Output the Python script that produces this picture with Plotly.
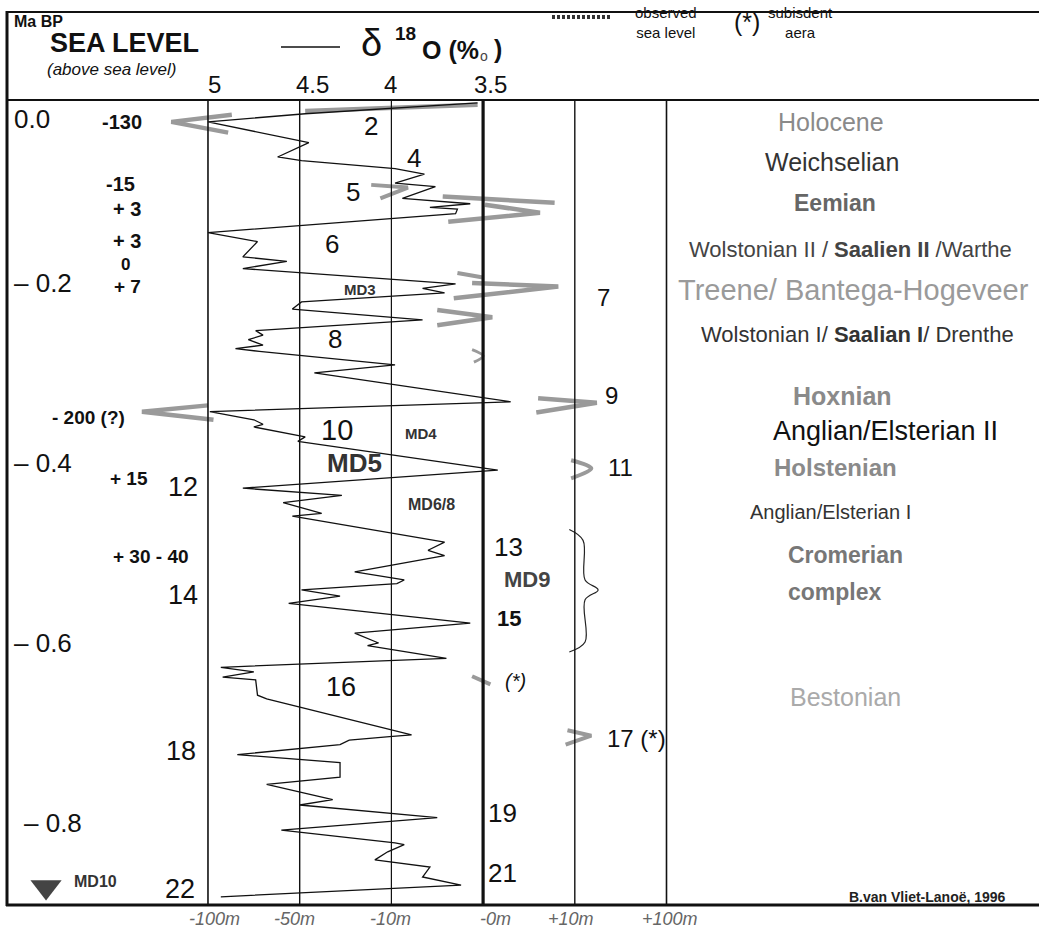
import plotly.graph_objects as go

W, H = 1039, 930
FONT = "Liberation Sans, Arial, Helvetica, sans-serif"

# ---------------- data ----------------
# delta-18O curve (age in Ma BP, d18O in per mil)
age_ma = [0.000, 0.012, 0.021, 0.044, 0.060, 0.064, 0.073, 0.079, 0.089, 0.093,
          0.106, 0.112, 0.116, 0.118, 0.123, 0.144, 0.154, 0.171, 0.176, 0.184,
          0.201, 0.206, 0.211, 0.221, 0.229, 0.241, 0.253, 0.258, 0.263, 0.269,
          0.273, 0.276, 0.291, 0.300, 0.332, 0.343, 0.352, 0.357, 0.360, 0.371,
          0.376, 0.408, 0.428, 0.436, 0.444, 0.456, 0.459, 0.488, 0.497, 0.503,
          0.521, 0.530, 0.534, 0.541, 0.548, 0.556, 0.578, 0.589, 0.600, 0.603,
          0.617, 0.627, 0.632, 0.638, 0.641, 0.658, 0.662, 0.702, 0.704, 0.708,
          0.713, 0.724, 0.733, 0.749, 0.757, 0.774, 0.780, 0.794, 0.808, 0.822,
          0.824, 0.832, 0.841, 0.843, 0.849, 0.860, 0.869, 0.882]
d18o = [3.53, 4.47, 5.00, 4.45, 4.62, 4.49, 3.98, 3.82, 3.98, 3.76,
        3.94, 3.57, 3.79, 3.64, 3.65, 5.00, 4.73, 4.81, 4.57, 4.81,
        3.65, 3.83, 3.71, 4.49, 4.54, 3.83, 4.74, 4.70, 4.78, 4.70,
        4.85, 4.72, 3.98, 4.42, 3.35, 4.99, 4.75, 4.70, 4.75, 4.47,
        4.51, 3.42, 4.81, 4.27, 4.59, 4.38, 4.54, 3.71, 3.80, 3.71,
        4.20, 3.93, 3.97, 4.49, 4.28, 4.56, 3.57, 4.20, 4.07, 4.13,
        3.70, 4.93, 4.75, 4.92, 4.74, 4.73, 4.68, 3.89, 4.01, 4.23,
        4.28, 4.84, 4.28, 4.28, 4.68, 4.32, 4.50, 3.75, 4.60, 3.98,
        3.93, 4.02, 4.09, 4.02, 3.79, 3.83, 3.62, 4.93]

# observed sea-level marks (age, position on the d18O scale)
sl_holocene_age = [0.009, 0.002];        sl_holocene_x = [4.47, 3.53]
sl_m130_age = [0.013, 0.021, 0.033];     sl_m130_x = [4.87, 5.20, 4.89]
sl_st5_age = [0.091, 0.094, 0.106];      sl_st5_x = [4.11, 3.91, 4.06]
sl_eem_a_age = [0.104, 0.111];           sl_eem_a_x = [3.72, 3.11]
sl_eem_b_age = [0.113, 0.122, 0.132];    sl_eem_b_x = [3.49, 3.19, 3.69]
sl_st7a_age = [0.189, 0.194];            sl_st7a_x = [3.64, 3.50]
sl_st7b_age = [0.200, 0.204, 0.217];     sl_st7b_x = [3.56, 3.09, 3.66]
sl_st7c_age = [0.230, 0.238, 0.247];     sl_st7c_x = [3.75, 3.45, 3.75]
sl_st8_age = [0.274, 0.281, 0.288];      sl_st8_x = [3.56, 3.50, 3.55]
sl_m200_age = [0.336, 0.343, 0.352];     sl_m200_x = [5.00, 5.36, 4.97]
sl_st9_age = [0.328, 0.333, 0.344];      sl_st9_x = [3.20, 2.88, 3.21]
sl_st11_age = [0.397, 0.406, 0.417];     sl_st11_x = [3.02, 2.91, 3.02]
sl_st15_age = [0.637, 0.646];            sl_st15_x = [3.56, 3.46]
sl_st17_age = [0.697, 0.703, 0.713];     sl_st17_x = [3.04, 2.91, 3.05]

grid_d18o = [5.0, 4.5, 4.0, 3.5, 3.0, 2.5]
top_tick_labels = ["5", "4.5", "4", "3.5"]
bottom_tick_labels = ["-100m", "-50m", "-10m", "-0m", "+10m", "+100m"]
age_ticks = [0.0, 0.2, 0.4, 0.6, 0.8]
age_tick_labels = ["0.0", "– 0.2", "– 0.4", "– 0.6", "– 0.8"]

# brace (Cromerian complex)
brace_age = [0.474, 0.486, 0.530, 0.541, 0.552, 0.599, 0.610]
brace_x = [3.03, 2.955, 2.944, 2.873, 2.944, 2.944, 3.03]

X_RANGE = [6.134, 0.469]
Y_RANGE = [0.9189, -0.1144]
AGE_TOP, AGE_BOTTOM = -0.0033, 0.891

fig = go.Figure()

GRAY = "#9a9a9a"
marks = [
    (sl_holocene_age, sl_holocene_x, 4.5, "linear"),
    (sl_m130_age, sl_m130_x, 4.5, "linear"),
    (sl_st5_age, sl_st5_x, 4, "linear"),
    (sl_eem_a_age, sl_eem_a_x, 4.5, "linear"),
    (sl_eem_b_age, sl_eem_b_x, 4.5, "linear"),
    (sl_st7a_age, sl_st7a_x, 4, "linear"),
    (sl_st7b_age, sl_st7b_x, 4.5, "linear"),
    (sl_st7c_age, sl_st7c_x, 4.5, "linear"),
    (sl_st8_age, sl_st8_x, 3, "spline"),
    (sl_m200_age, sl_m200_x, 4.5, "linear"),
    (sl_st9_age, sl_st9_x, 4.5, "linear"),
    (sl_st11_age, sl_st11_x, 4, "spline"),
    (sl_st15_age, sl_st15_x, 4, "linear"),
    (sl_st17_age, sl_st17_x, 4, "linear"),
]
for a, x, w, shp in marks:
    fig.add_trace(go.Scatter(x=x, y=a, mode="lines",
                             line=dict(color=GRAY, width=w, shape=shp),
                             hoverinfo="skip", showlegend=False))

fig.add_trace(go.Scatter(x=d18o, y=age_ma, mode="lines",
                         line=dict(color="#111", width=1.3),
                         showlegend=False))

fig.add_trace(go.Scatter(x=brace_x, y=brace_age, mode="lines",
                         line=dict(color="#222", width=1.2, shape="spline"),
                         hoverinfo="skip", showlegend=False))

# MD10 triangle
fig.add_trace(go.Scatter(x=[5.883], y=[0.871], mode="markers",
                         marker=dict(symbol="triangle-down", size=27, color="#444"),
                         hoverinfo="skip", showlegend=False))

shapes = []
widths = [1.6, 1.4, 1.2, 3.2, 1.4, 1.6]
for g, w in zip(grid_d18o, widths):
    shapes.append(dict(type="line", xref="x", yref="y", x0=g, x1=g,
                       y0=AGE_TOP, y1=AGE_BOTTOM, line=dict(color="#111", width=w)))

def px(x):
    return x / W

def py(y):
    return 1 - y / H

# frame
shapes += [
    dict(type="line", xref="paper", yref="paper", x0=px(7), x1=1, y0=py(12), y1=py(12),
         line=dict(color="#111", width=2)),
    dict(type="line", xref="paper", yref="paper", x0=px(7), x1=1, y0=py(100), y1=py(100),
         line=dict(color="#111", width=2)),
    dict(type="line", xref="paper", yref="paper", x0=px(6), x1=1, y0=py(905), y1=py(905),
         line=dict(color="#111", width=3)),
    dict(type="line", xref="paper", yref="paper", x0=px(7), x1=px(7), y0=py(11), y1=py(906),
         line=dict(color="#111", width=3)),
    # legend line for d18O
    dict(type="line", xref="paper", yref="paper", x0=px(281), x1=px(340), y0=py(47), y1=py(47),
         line=dict(color="#111", width=1.3)),
    # legend for observed sea level
    dict(type="line", xref="paper", yref="paper", x0=px(552), x1=px(612), y0=py(17), y1=py(17),
         line=dict(color="#333", width=4, dash="3px,2px")),
]

ann = []

def text(t, x, y, size, color="#111", bold=False, italic=False, anchor="center"):
    s = t
    if bold:
        s = "<b>" + s + "</b>"
    if italic:
        s = "<i>" + s + "</i>"
    ann.append(dict(text=s, x=px(x), y=py(y), xref="paper", yref="paper",
                    xanchor=anchor, yanchor="middle", showarrow=False,
                    font=dict(family=FONT, size=size, color=color)))

# header
text("Ma BP", 12, 21, 16, bold=True, anchor="left")
text("SEA LEVEL", 48, 43, 27, bold=True, anchor="left")
text("(above sea level)", 45, 69, 17, italic=True, anchor="left")
text("δ", 371, 43, 38, color="#111")
text("18", 405, 33, 19, bold=True)
text("O (%", 420, 50, 25, bold=True, anchor="left")
text("o", 484, 56, 14, color="#444")
text(")", 498, 49, 25, bold=True)
ann.append(dict(text="observed<br>sea level", x=px(666), y=py(22), xref="paper", yref="paper",
                xanchor="center", yanchor="middle", showarrow=False, align="center",
                font=dict(family=FONT, size=15, color="#111")))
text("(*)", 747, 22, 25)
ann.append(dict(text="subisdent<br>aera", x=px(800), y=py(22), xref="paper", yref="paper",
                xanchor="center", yanchor="middle", showarrow=False, align="center",
                font=dict(family=FONT, size=15, color="#111")))

# top ticks (d18O)
for v, lab, sh in zip(grid_d18o[:4], top_tick_labels, [7, 13, -1, 7]):
    ann.append(dict(text=lab, x=v, y=AGE_TOP, xref="x", yref="y", xshift=sh,
                    xanchor="center", yanchor="bottom", yshift=0, showarrow=False,
                    font=dict(family=FONT, size=24, color="#111")))
# bottom ticks (sea level)
for v, lab, sh in zip(grid_d18o, bottom_tick_labels, [7, -5, -1, 12, -4, 3]):
    ann.append(dict(text="<i>" + lab + "</i>", x=v, y=AGE_BOTTOM, xref="x", yref="y", xshift=sh,
                    xanchor="center", yanchor="top", yshift=-2, showarrow=False,
                    font=dict(family=FONT, size=18, color="#666")))
# age labels
for t, lab in zip(age_ticks, age_tick_labels):
    ys = -16 if t == 0.0 else 0
    xl = 22 if t == 0.8 else 12
    ann.append(dict(text=lab, x=px(xl), y=t, xref="paper", yref="y", yshift=ys,
                    xanchor="left", yanchor="middle", showarrow=False,
                    font=dict(family=FONT, size=26, color="#111")))

# sea-level values
text("-130", 122, 122, 20, bold=True)
text("-15", 120, 184, 20, bold=True)
text("+ 3", 127, 209, 20, bold=True)
text("+ 3", 127, 241, 20, bold=True)
text("0", 125, 265, 17, bold=True)
text("+ 7", 127, 286, 19, bold=True)
text("- 200 (?)", 88, 417, 19, bold=True)
text("+ 15", 129, 479, 19, bold=True)
text("+ 30 - 40", 151, 556, 19, bold=True)
text("MD10", 72, 881, 16, bold=True, color="#333", anchor="left")

# isotope stages
text("2", 371, 126, 26)
text("4", 414, 158, 26)
text("5", 353, 192, 26)
text("6", 332, 244, 26)
text("MD3", 360, 290, 15, bold=True, color="#333")
text("7", 603, 297, 24)
text("8", 335, 339, 26)
text("9", 611, 395, 24)
text("10", 337, 430, 29)
text("MD4", 421, 433, 15, bold=True, color="#333")
text("MD5", 354, 463, 26, bold=True, color="#333")
text("11", 620, 467, 24)
text("12", 183, 487, 27)
text("MD6/8", 431, 505, 16, bold=True, color="#333")
text("13", 508, 547, 26)
text("MD9", 527, 579, 22, bold=True, color="#444")
text("14", 183, 595, 27)
text("15", 509, 618, 22, bold=True)
text("(*)", 515, 681, 20, italic=True)
text("16", 341, 687, 27)
text("17 (*)", 636, 738, 24)
text("18", 181, 751, 27)
text("19", 502, 813, 26)
text("21", 502, 873, 26)
text("22", 180, 889, 27)

# chronostratigraphy
text("Holocene", 831, 122, 25, color="#8a8a8a")
text("Weichselian", 832, 162, 25, color="#333")
text("Eemian", 835, 203, 23, bold=True, color="#666")
text("Wolstonian II / <b>Saalien II</b> /Warthe", 850, 250, 22, color="#444")
text("Treene/ Bantega-Hogeveer", 853, 290, 29, color="#9a9a9a")
text("Wolstonian I/ <b>Saalian I</b>/ Drenthe", 857, 334, 22, color="#333")
text("Hoxnian", 842, 396, 25, bold=True, color="#8a8a8a")
text("Anglian/Elsterian II", 885, 431, 27, color="#111")
text("Holstenian", 835, 467, 24, bold=True, color="#8a8a8a")
text("Anglian/Elsterian I", 830, 512, 20, color="#333")
text("Cromerian", 845, 555, 23, bold=True, color="#777")
text("complex", 835, 592, 23, bold=True, color="#777")
text("Bestonian", 845, 697, 25, color="#aaa")
text("B.van Vliet-Lanoë, 1996", 927, 897, 14, bold=True, color="#222")

fig.update_layout(
    width=W, height=H,
    margin=dict(l=0, r=0, t=0, b=0),
    paper_bgcolor="white", plot_bgcolor="white",
    xaxis=dict(range=X_RANGE, visible=False, fixedrange=True),
    yaxis=dict(range=Y_RANGE, visible=False, fixedrange=True),
    shapes=shapes, annotations=ann, showlegend=False,
)

fig.write_html("out.html", config={"displayModeBar": False},
               post_script="document.body.style.margin='0';")
